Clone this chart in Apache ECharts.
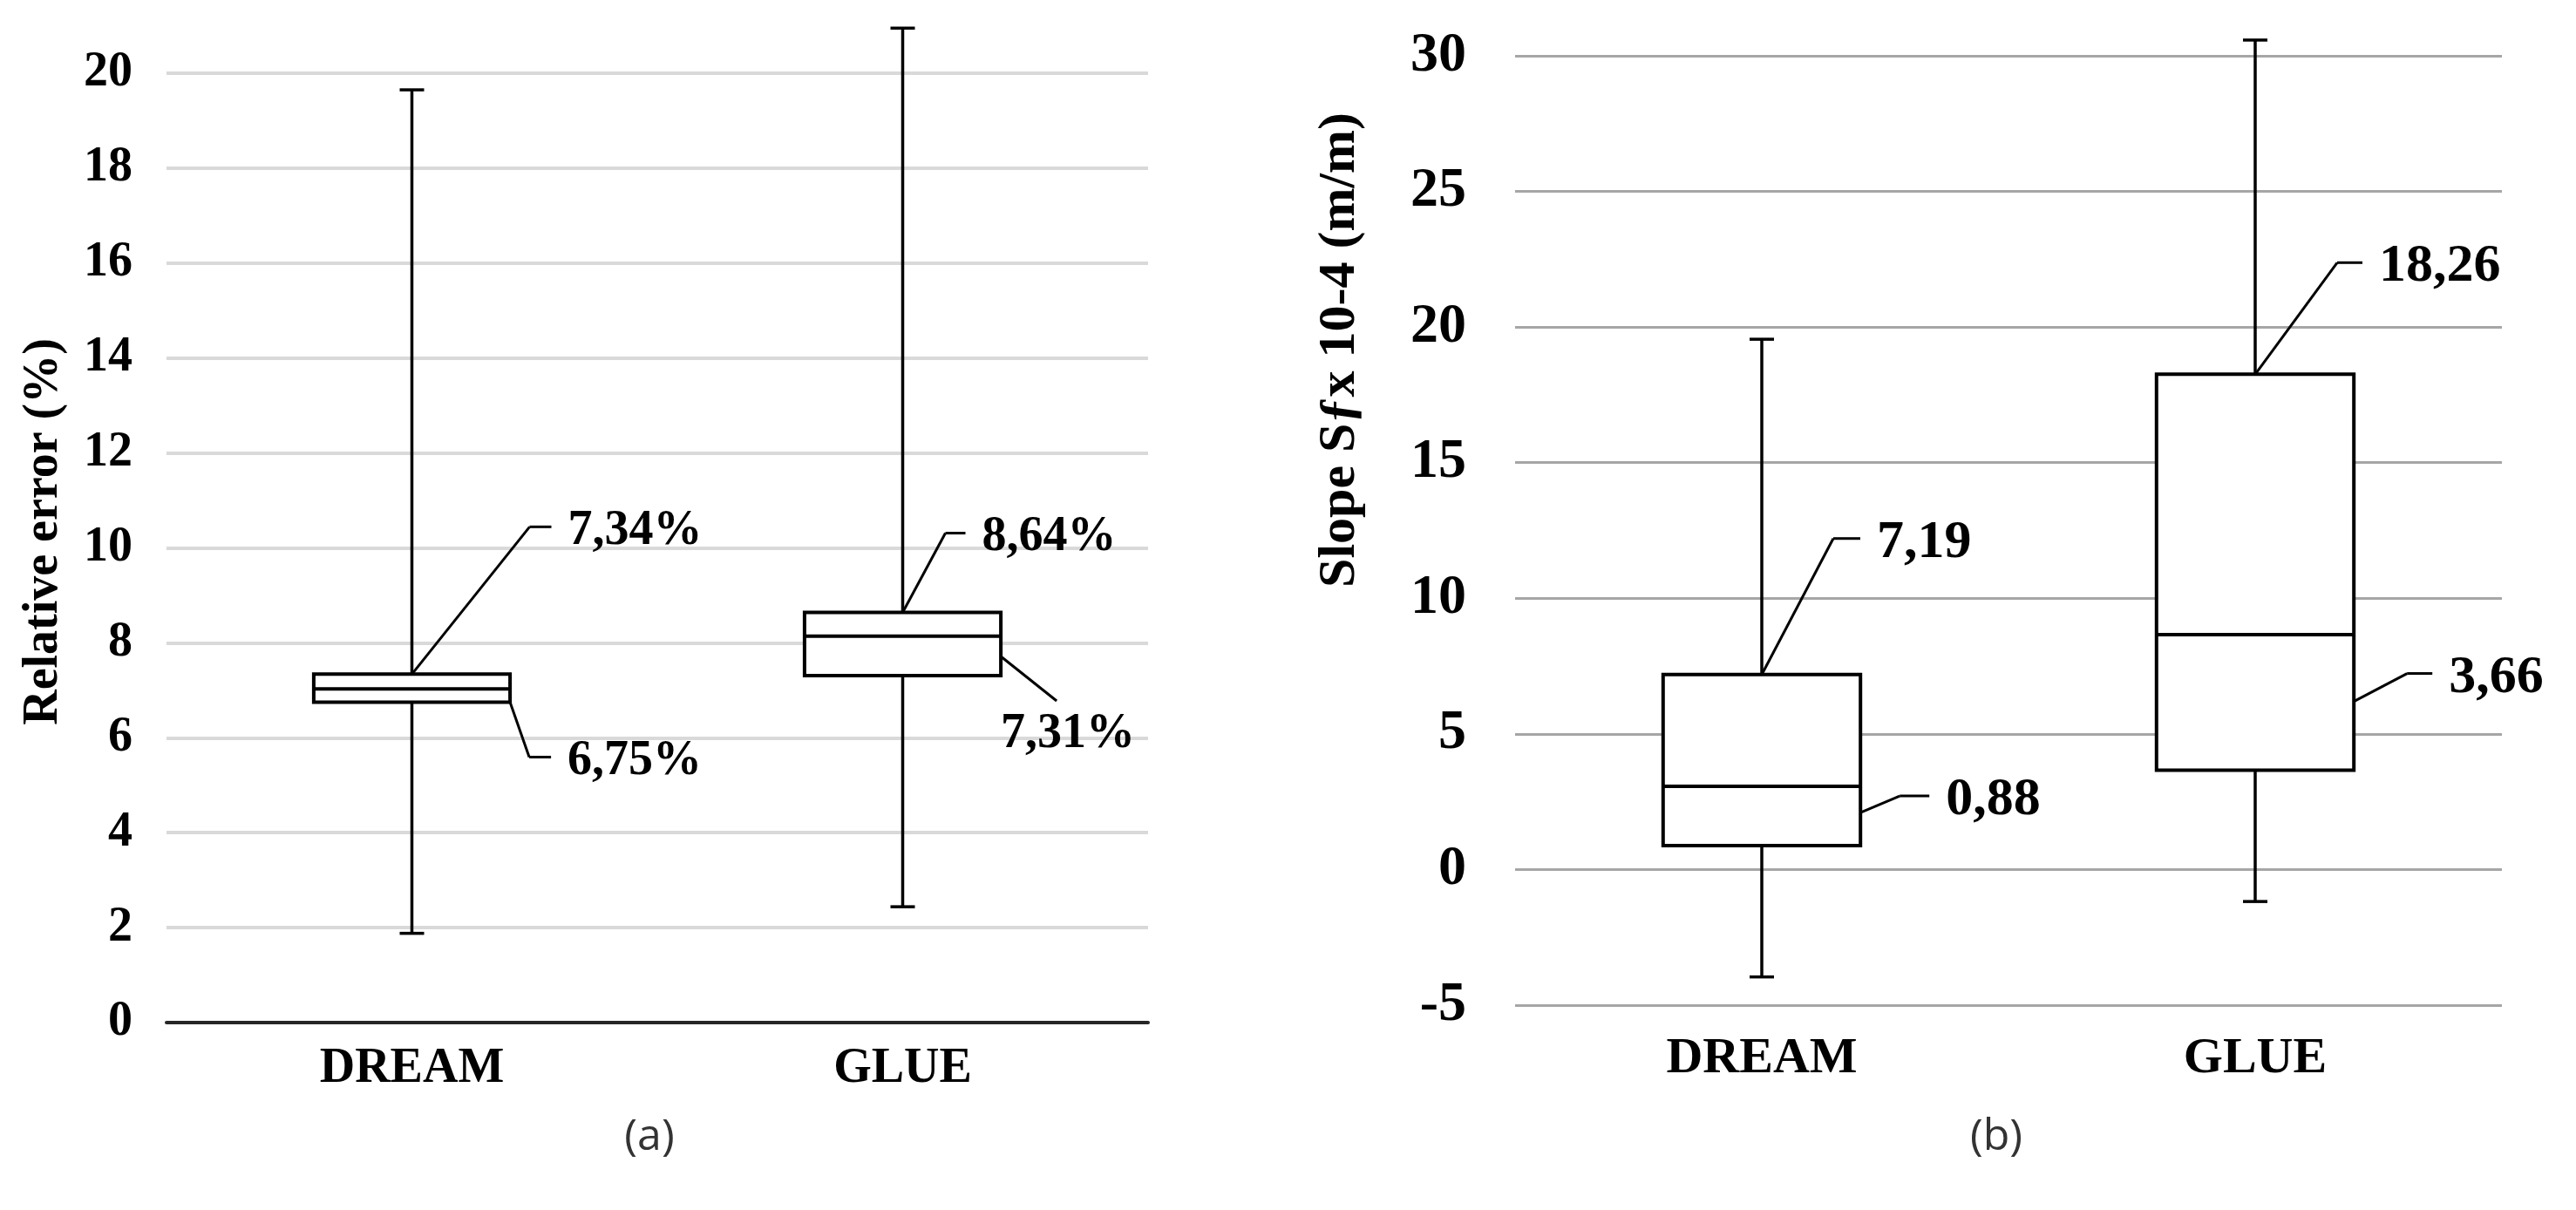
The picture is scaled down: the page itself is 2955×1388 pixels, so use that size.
<!DOCTYPE html>
<html>
<head>
<meta charset="utf-8">
<script src="https://cdn.jsdelivr.net/npm/echarts@6/dist/echarts.min.js"></script>
<style>
  html, body { margin: 0; padding: 0; background: #fff; }
  #chart { width: 2955px; height: 1388px; }
</style>
</head>
<body>
<div id="chart"></div>
<script>
// --- data: [min, Q1, median, Q3, max] ---
const categories = ['DREAM', 'GLUE'];
const errorDream = [1.88, 6.75, 7.03, 7.34, 19.65];
const errorGlue = [2.44, 7.31, 8.14, 8.64, 20.95];
const slopeDream = [-3.96, 0.88, 3.07, 7.19, 19.55];
const slopeGlue = [-1.18, 3.66, 8.66, 18.26, 30.58];
const errorTicks = [0, 20, 2];   // min, max, step
const slopeTicks = [-5, 30, 5];

const SERIF = '"Liberation Serif", "Times New Roman", serif';

// leader lines for the quartile labels (pixel offsets, per category)
const errorLeaders = [
  [{ at: 'q3', side: 0, y0: 0, ex: 135, ey: -169, tail: 25 },
   { at: 'q1', side: 1, y0: 0, ex: 22, ey: 63, tail: 25 }],
  [{ at: 'q3', side: 0, y0: 0, ex: 49, ey: -91, tail: 23 },
   { at: 'q1', side: 1, y0: -22, ex: 64, ey: 51, below: true }]
];
const slopeLeaders = [
  [{ at: 'q3', side: 0, y0: 0, ex: 82, ey: -156, tail: 31 },
   { at: 'q1', side: 1, y0: -38, ex: 45, ey: -19, tail: 34 }],
  [{ at: 'q3', side: 0, y0: 0, ex: 94, ey: -128, tail: 29 },
   { at: 'q1', side: 1, y0: -79, ex: 61, ey: -32, tail: 29 }]
];

function fmt(v, unit) {
  return v.toFixed(2).replace('.', ',') + unit;
}

function line(x1, y1, x2, y2, w) {
  return { type: 'line', shape: { x1, y1, x2, y2 }, style: { stroke: '#000', lineWidth: w || 3 } };
}

// box + whiskers + labelled quartiles
function boxRenderer(leaders, unit, labelSize) {
  return function (params, api) {
    const i = api.value(0);
    const y = k => api.coord([i, api.value(k)])[1];
    const x = api.coord([i, 0])[0];
    const half = api.size([1, 0])[0] * 0.2;
    const yMin = y(1), yQ1 = y(2), yMed = y(3), yQ3 = y(4), yMax = y(5);
    const children = [
      line(x, yMax, x, yQ3, 3.5), line(x, yQ1, x, yMin, 3.5),
      line(x - 14, yMax, x + 14, yMax, 3.5), line(x - 14, yMin, x + 14, yMin, 3.5),
      { type: 'rect', shape: { x: x - half, y: yQ3, width: 2 * half, height: yQ1 - yQ3 },
        style: { fill: '#fff', stroke: '#000', lineWidth: 4 } },
      line(x - half, yMed, x + half, yMed, 4)
    ];
    leaders[i].forEach(l => {
      const v = api.value(l.at === 'q3' ? 4 : 2);
      const sx = x + (l.side ? half : 0);
      const sy = (l.at === 'q3' ? yQ3 : yQ1) + l.y0;
      const ex = sx + l.ex, ey = sy + l.ey;
      children.push(line(sx, sy, ex, ey));
      let tx, ty;
      if (l.below) {
        tx = sx; ty = ey + 39;
      } else {
        children.push(line(ex, ey, ex + l.tail, ey));
        tx = ex + l.tail + 19; ty = ey + 5;
      }
      children.push({
        type: 'text',
        style: { text: fmt(v, unit), x: tx, y: ty, fill: '#000', fontSize: labelSize,
          fontWeight: 'bold', fontFamily: SERIF, align: 'left', verticalAlign: 'middle' }
      });
    });
    return { type: 'group', children };
  };
}

const chart = echarts.init(document.getElementById('chart'));

const captionStyle = { fill: '#333', fontSize: 50, fontFamily: '"Open Sans", "Noto Sans", sans-serif',
  align: 'center', verticalAlign: 'middle' };

const option = {
  animation: false,
  backgroundColor: '#fff',
  graphic: [
    { type: 'text', x: 745, y: 1305, style: Object.assign({ text: '(a)' }, captionStyle) },
    { type: 'text', x: 2290, y: 1305, style: Object.assign({ text: '(b)' }, captionStyle) }
  ],
  grid: [
    { left: 191, right: 1638, top: 84, bottom: 215 },
    { left: 1738, right: 85, top: 64, bottom: 235 }
  ],
  xAxis: [
    {
      type: 'category', gridIndex: 0, data: categories,
      axisTick: { show: false },
      axisLine: { lineStyle: { color: '#262626', width: 4 } },
      axisLabel: { margin: 26, color: '#000', fontSize: 56, fontWeight: 'bold', fontFamily: SERIF }
    },
    {
      type: 'category', gridIndex: 1, data: categories,
      axisTick: { show: false },
      axisLine: { show: false },
      axisLabel: { margin: 33, color: '#000', fontSize: 58, fontWeight: 'bold', fontFamily: SERIF }
    }
  ],
  yAxis: [
    {
      type: 'value', gridIndex: 0,
      min: errorTicks[0], max: errorTicks[1], interval: errorTicks[2],
      axisLine: { show: false }, axisTick: { show: false },
      splitLine: { lineStyle: { color: '#d9d9d9', width: 4 } },
      axisLabel: { margin: 39, color: '#000', fontSize: 56, fontWeight: 'bold', fontFamily: SERIF },
      name: 'Relative error (%)', nameLocation: 'middle', nameRotate: 90, nameGap: 112,
      nameTextStyle: { color: '#000', fontSize: 56, fontWeight: 'bold', fontFamily: SERIF, padding: [0, 0, 0, 37] }
    },
    {
      type: 'value', gridIndex: 1,
      min: slopeTicks[0], max: slopeTicks[1], interval: slopeTicks[2],
      axisLine: { show: false }, axisTick: { show: false },
      splitLine: { lineStyle: { color: '#a6a6a6', width: 3 } },
      axisLabel: { margin: 56, color: '#000', fontSize: 64, fontWeight: 'bold', fontFamily: SERIF },
      name: 'Slope Sƒx 10-4 (m/m)', nameLocation: 'middle', nameRotate: 90, nameGap: 171,
      nameTextStyle: { color: '#000', fontSize: 60, fontWeight: 'bold', fontFamily: SERIF, padding: [0, 0, 0, 414] }
    }
  ],
  series: [
    {
      type: 'custom', xAxisIndex: 0, yAxisIndex: 0,
      renderItem: boxRenderer(errorLeaders, '%', 56),
      encode: { x: 0, y: [1, 2, 3, 4, 5] },
      data: [[0].concat(errorDream), [1].concat(errorGlue)]
    },
    {
      type: 'custom', xAxisIndex: 1, yAxisIndex: 1,
      renderItem: boxRenderer(slopeLeaders, '', 62),
      encode: { x: 0, y: [1, 2, 3, 4, 5] },
      data: [[0].concat(slopeDream), [1].concat(slopeGlue)]
    }
  ]
};

chart.setOption(option);
</script>
</body>
</html>
